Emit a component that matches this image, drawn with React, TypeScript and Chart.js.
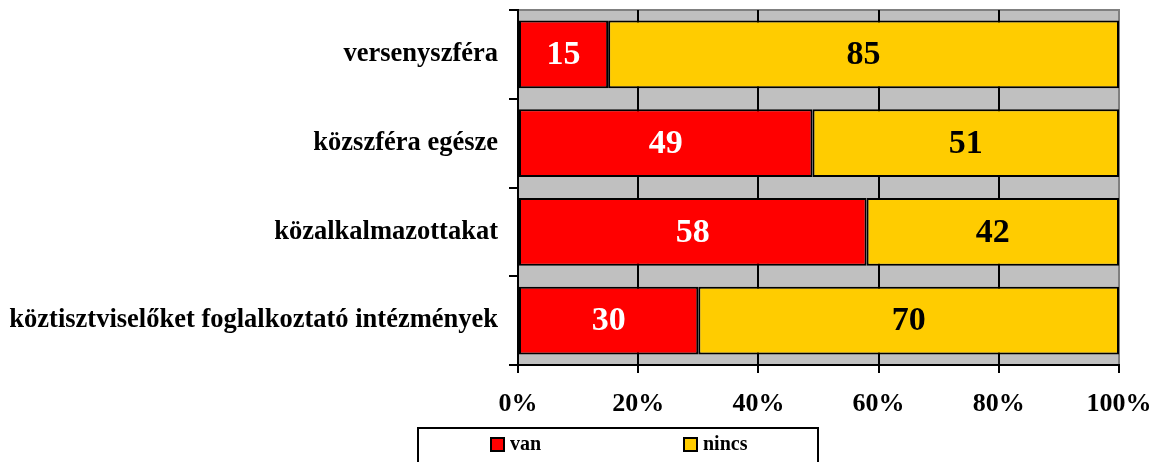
import React, { useEffect, useRef } from "react";
import { Chart, registerables } from "chart.js";

Chart.register(...registerables);

const categories = [
  "versenyszféra",
  "közszféra egésze",
  "közalkalmazottakat",
  "köztisztviselőket foglalkoztató intézmények",
];
const vanValues = [15, 49, 58, 30];
const nincsValues = [85, 51, 42, 70];
const seriesNames = ["van", "nincs"];
const xTicks = [0, 20, 40, 60, 80, 100];

const FONT = "'Liberation Serif', 'Times New Roman', serif";

const bgPlugin = {
  id: "plotBg",
  beforeDraw(chart: any) {
    const { ctx, chartArea } = chart;
    ctx.save();
    ctx.fillStyle = "#C0C0C0";
    ctx.fillRect(chartArea.left, chartArea.top, chartArea.right - chartArea.left, chartArea.bottom - chartArea.top);
    ctx.strokeStyle = "#808080";
    ctx.lineWidth = 2;
    ctx.beginPath();
    ctx.moveTo(chartArea.left, chartArea.top);
    ctx.lineTo(chartArea.right, chartArea.top);
    ctx.lineTo(chartArea.right, chartArea.bottom);
    ctx.stroke();
    ctx.restore();
  },
};

const labelPlugin = {
  id: "valueLabels",
  afterDatasetsDraw(chart: any) {
    const { ctx } = chart;
    ctx.save();
    ctx.font = `bold 34px ${FONT}`;
    ctx.textAlign = "center";
    ctx.textBaseline = "middle";
    chart.data.datasets.forEach((ds: any, di: number) => {
      const meta = chart.getDatasetMeta(di);
      meta.data.forEach((el: any, i: number) => {
        const cx = (el.x + el.base) / 2;
        ctx.fillStyle = di === 0 ? "#FFFFFF" : "#000000";
        ctx.fillText(String(ds.data[i]), cx, el.y + 1);
      });
    });
    ctx.restore();
  },
};

const legendPlugin = {
  id: "boxLegend",
  afterDraw(chart: any) {
    const { ctx } = chart;
    ctx.save();
    ctx.strokeStyle = "#000";
    ctx.lineWidth = 2;
    ctx.strokeRect(418, 428, 400, 60);
    const items = [
      { x: 491, color: chart.data.datasets[0].backgroundColor, label: chart.data.datasets[0].label },
      { x: 684, color: chart.data.datasets[1].backgroundColor, label: chart.data.datasets[1].label },
    ];
    ctx.font = `bold 20px ${FONT}`;
    ctx.textBaseline = "middle";
    ctx.textAlign = "left";
    items.forEach((it) => {
      ctx.fillStyle = it.color;
      ctx.fillRect(it.x, 438, 13, 13);
      ctx.lineWidth = 2;
      ctx.strokeStyle = "#000";
      ctx.strokeRect(it.x, 438, 13, 13);
      ctx.fillStyle = "#000";
      ctx.fillText(it.label, it.x + 19, 445);
    });
    ctx.restore();
  },
};

export default function App() {
  const ref = useRef<HTMLCanvasElement>(null);
  useEffect(() => {
    document.body.style.margin = "0";
    const chart = new Chart(ref.current!, {
      type: "bar",
      data: {
        labels: categories,
        datasets: [
          {
            label: seriesNames[0],
            data: vanValues,
            backgroundColor: "#FF0000",
            borderColor: "#000000",
            borderWidth: 2,
            borderSkipped: false,
            categoryPercentage: 1,
            barPercentage: 0.765,
          },
          {
            label: seriesNames[1],
            data: nincsValues,
            backgroundColor: "#FFCC00",
            borderColor: "#000000",
            borderWidth: 2,
            borderSkipped: false,
            categoryPercentage: 1,
            barPercentage: 0.765,
          },
        ],
      },
      options: {
        indexAxis: "y",
        responsive: false,
        animation: false,
        layout: { padding: { top: 10, right: 39, left: 0, bottom: 0 } },
        plugins: { legend: { display: false }, tooltip: { enabled: false } },
        scales: {
          x: {
            stacked: true,
            min: 0,
            max: 100,
            afterBuildTicks(scale: any) {
              scale.ticks = xTicks.map((v) => ({ value: v }));
            },
            afterFit(scale: any) {
              scale.height = 97;
              scale.paddingLeft = 0;
              scale.paddingRight = 0;
            },
            border: { display: true, color: "#000", width: 2 },
            grid: {
              color: (c: any) => (c.index === xTicks.length - 1 ? "#808080" : "#000"),
              lineWidth: 2,
              tickLength: 8,
              tickColor: "#000",
            },
            ticks: {
              callback: (v: any) => v + "%",
              color: "#000",
              font: { family: FONT, size: 26, weight: "bold" },
              padding: 16,
              maxRotation: 0,
            },
          },
          y: {
            stacked: true,
            afterFit(scale: any) {
              scale.width = 518;
              scale.paddingTop = 0;
              scale.paddingBottom = 0;
            },
            border: { display: true, color: "#000", width: 2 },
            grid: {
              offset: true,
              drawOnChartArea: false,
              tickLength: 9,
              color: "#000",
              lineWidth: 2,
            },
            ticks: {
              color: "#000",
              font: { family: FONT, size: 26.5, weight: "bold" },
              padding: 11,
            },
          },
        },
      },
      plugins: [bgPlugin, labelPlugin, legendPlugin],
    } as any);
    return () => chart.destroy();
  }, []);
  return (
    <div style={{ width: 1158, height: 462, position: "relative" }}>
      <canvas ref={ref} width={1158} height={462} />
    </div>
  );
}
